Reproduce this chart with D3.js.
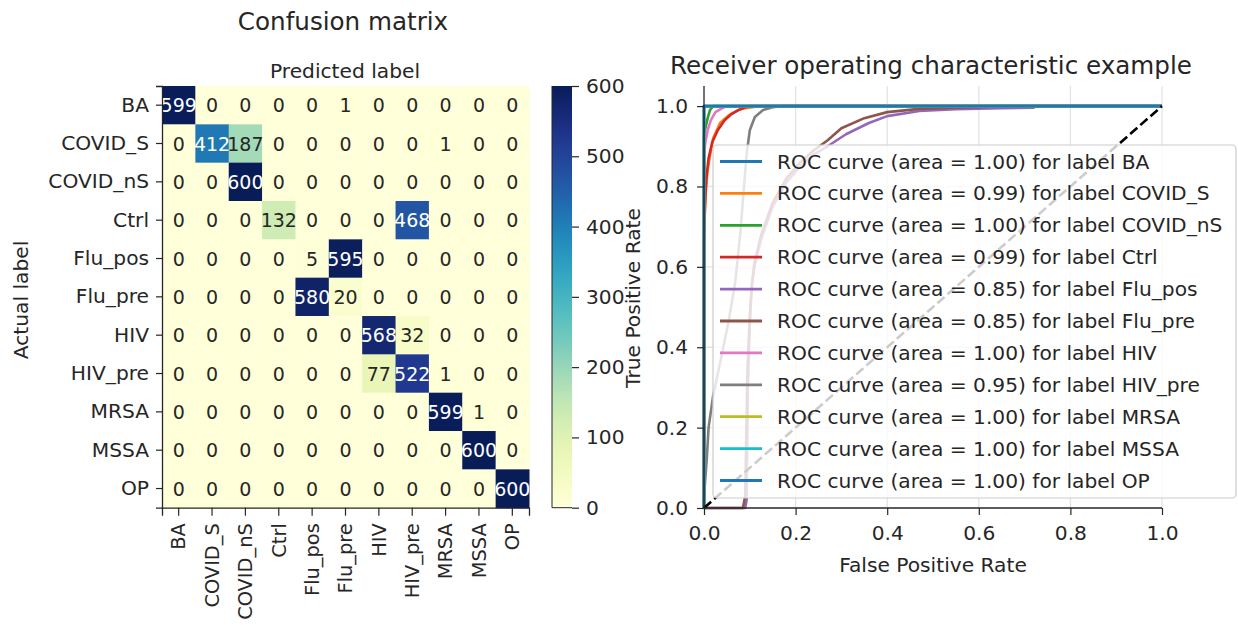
<!DOCTYPE html>
<html>
<head>
<meta charset="utf-8">
<script src="https://cdn.jsdelivr.net/npm/d3@7"></script>
<style>
  body { margin: 0; background: #ffffff; }
  svg { display: block; font-family: "DejaVu Sans", sans-serif; }
</style>
</head>
<body>
<svg id="chart" width="1238" height="625"></svg>
<script>
// ---- Confusion matrix data ----
const classLabels = ["BA", "COVID_S", "COVID_nS", "Ctrl", "Flu_pos", "Flu_pre", "HIV", "HIV_pre", "MRSA", "MSSA", "OP"];
const rowBA      = [599, 0, 0, 0, 0, 1, 0, 0, 0, 0, 0];
const rowCOVID_S = [0, 412, 187, 0, 0, 0, 0, 0, 1, 0, 0];
const rowCOVID_nS= [0, 0, 600, 0, 0, 0, 0, 0, 0, 0, 0];
const rowCtrl    = [0, 0, 0, 132, 0, 0, 0, 468, 0, 0, 0];
const rowFlu_pos = [0, 0, 0, 0, 5, 595, 0, 0, 0, 0, 0];
const rowFlu_pre = [0, 0, 0, 0, 580, 20, 0, 0, 0, 0, 0];
const rowHIV     = [0, 0, 0, 0, 0, 0, 568, 32, 0, 0, 0];
const rowHIV_pre = [0, 0, 0, 0, 0, 0, 77, 522, 1, 0, 0];
const rowMRSA    = [0, 0, 0, 0, 0, 0, 0, 0, 599, 1, 0];
const rowMSSA    = [0, 0, 0, 0, 0, 0, 0, 0, 0, 600, 0];
const rowOP      = [0, 0, 0, 0, 0, 0, 0, 0, 0, 0, 600];
const matrixRows = [rowBA, rowCOVID_S, rowCOVID_nS, rowCtrl, rowFlu_pos, rowFlu_pre, rowHIV, rowHIV_pre, rowMRSA, rowMSSA, rowOP];
const colorbarTicks = [0, 100, 200, 300, 400, 500, 600];

// ---- ROC curve data (false positive rate / true positive rate per class) ----
const fprBA = [0, 0, 1];
const tprBA = [0, 1, 1];
const fprCOVID_S = [0, 0, 0.002, 0.004, 0.008, 0.012, 0.02, 0.035, 0.055, 0.075, 0.09, 0.12, 1];
const tprCOVID_S = [0, 0.67, 0.74, 0.79, 0.84, 0.87, 0.92, 0.958, 0.978, 0.99, 0.995, 1, 1];
const fprCOVID_nS = [0, 0, 0.004, 0.008, 0.013, 0.02, 1];
const tprCOVID_nS = [0, 0.93, 0.95, 0.97, 0.99, 1, 1];
const fprCtrl = [0, 0, 0.002, 0.005, 0.01, 0.018, 0.03, 0.045, 0.06, 0.075, 0.09, 0.1, 1];
const tprCtrl = [0, 0.67, 0.75, 0.82, 0.87, 0.91, 0.94, 0.965, 0.98, 0.99, 0.997, 1, 1];
const fprFlu_pos = [0, 0.09, 0.093, 0.096, 0.1, 0.104, 0.11, 0.125, 0.15, 0.18, 0.21, 0.24, 0.27, 0.31, 0.36, 0.4, 0.47, 0.55, 0.65, 0.72, 0.72, 1];
const tprFlu_pos = [0, 0, 0.02, 0.3, 0.45, 0.55, 0.6, 0.67, 0.75, 0.81, 0.85, 0.88, 0.9, 0.93, 0.958, 0.975, 0.988, 0.992, 0.995, 0.996, 1, 1];
const fprFlu_pre = [0, 0.085, 0.09, 0.095, 0.1, 0.105, 0.11, 0.125, 0.15, 0.18, 0.21, 0.24, 0.27, 0.3, 0.35, 0.4, 0.47, 0.55, 0.617, 0.617, 1];
const tprFlu_pre = [0, 0, 0.03, 0.35, 0.48, 0.56, 0.61, 0.68, 0.76, 0.82, 0.86, 0.89, 0.915, 0.945, 0.97, 0.985, 0.993, 0.996, 0.998, 1, 1];
const fprHIV = [0, 0, 0.003, 0.008, 0.015, 0.025, 0.04, 0.05, 1];
const tprHIV = [0, 0.88, 0.91, 0.94, 0.965, 0.985, 0.995, 1, 1];
const fprHIV_pre = [0, 0, 0.002, 0.006, 0.01, 0.02, 0.035, 0.053, 0.068, 0.079, 0.086, 0.093, 0.1, 0.111, 0.129, 0.15, 0.17, 1];
const tprHIV_pre = [0, 0.02, 0.06, 0.12, 0.2, 0.28, 0.36, 0.46, 0.56, 0.68, 0.78, 0.88, 0.94, 0.973, 0.99, 0.997, 1, 1];
const fprMRSA = [0, 0, 1];
const tprMRSA = [0, 1, 1];
const fprMSSA = [0, 0, 1];
const tprMSSA = [0, 1, 1];
const fprOP = [0, 0, 1];
const tprOP = [0, 1, 1];
const rocAreas = ["1.00", "0.99", "1.00", "0.99", "0.85", "0.85", "1.00", "0.95", "1.00", "1.00", "1.00"];
const rocFpr = [fprBA, fprCOVID_S, fprCOVID_nS, fprCtrl, fprFlu_pos, fprFlu_pre, fprHIV, fprHIV_pre, fprMRSA, fprMSSA, fprOP];
const rocTpr = [tprBA, tprCOVID_S, tprCOVID_nS, tprCtrl, tprFlu_pos, tprFlu_pre, tprHIV, tprHIV_pre, tprMRSA, tprMSSA, tprOP];
const rocTicks = [0, 0.2, 0.4, 0.6, 0.8, 1.0];

const lineColors = ["#1f77b4", "#ff7f0e", "#2ca02c", "#d62728", "#9467bd", "#8c564b", "#e377c2", "#7f7f7f", "#bcbd22", "#17becf", "#1f77b4"];
const textDark = "#262626";
const tickFont = 20.2, labelFont = 20.2, titleFont = 24.6, legendFont = 20.2, annotFont = 19;

const svg = d3.select("#chart");

// ================= Confusion matrix =================
const hm = { left: 162, right: 529, top: 86, bottom: 507.7 };
const xBand = d3.scaleBand().domain(classLabels).range([hm.left, hm.right]);
const yBand = d3.scaleBand().domain(classLabels).range([hm.top, hm.bottom]);
const color = d3.scaleSequential(d3.interpolateYlGnBu).domain([0, 600]);

const cells = [];
matrixRows.forEach((row, i) => row.forEach((v, j) => cells.push({ r: classLabels[i], c: classLabels[j], v })));

svg.append("g").selectAll("rect").data(cells).join("rect")
  .attr("x", d => xBand(d.c)).attr("y", d => yBand(d.r))
  .attr("width", xBand.bandwidth() + 0.5).attr("height", yBand.bandwidth() + 0.5)
  .attr("fill", d => color(d.v));

// pick light or dark annotation text from the cell's luminance
function luminance(c) {
  const rgb = d3.rgb(c);
  const ch = [rgb.r, rgb.g, rgb.b].map(x => {
    x /= 255;
    return x <= 0.03928 ? x / 12.92 : Math.pow((x + 0.055) / 1.055, 2.4);
  });
  return 0.2126 * ch[0] + 0.7152 * ch[1] + 0.0722 * ch[2];
}

svg.append("g").selectAll("text").data(cells).join("text")
  .attr("x", d => xBand(d.c) + xBand.bandwidth() / 2)
  .attr("y", d => yBand(d.r) + yBand.bandwidth() / 2)
  .attr("text-anchor", "middle").attr("dominant-baseline", "central")
  .attr("font-size", annotFont)
  .attr("fill", d => luminance(color(d.v)) > 0.408 ? textDark : "#ffffff")
  .text(d => d.v);

// axes of the matrix
const hmLeft = svg.append("g").attr("transform", `translate(${hm.left},0)`)
  .call(d3.axisLeft(yBand).tickSize(6).tickPadding(7));
const hmBottom = svg.append("g").attr("transform", `translate(0,${hm.bottom})`)
  .call(d3.axisBottom(xBand).tickSize(8).tickPadding(4));
[hmLeft, hmBottom].forEach(g => {
  g.select(".domain").attr("stroke", textDark).attr("stroke-width", 1.3);
  g.selectAll(".tick line").attr("stroke", textDark).attr("stroke-width", 1.2);
  g.selectAll(".tick text").attr("font-size", tickFont).attr("fill", textDark).attr("font-family", "DejaVu Sans");
});
hmBottom.selectAll(".tick text")
  .attr("font-size", 19.4)
  .attr("transform", "rotate(-90)")
  .attr("text-anchor", "end")
  .attr("dy", "0.35em")
  .attr("x", -15.5).attr("y", 0);

svg.append("text").attr("x", 343).attr("y", 30).attr("text-anchor", "middle")
  .attr("font-size", titleFont).attr("fill", textDark).text("Confusion matrix");
svg.append("text").attr("x", 345).attr("y", 78).attr("text-anchor", "middle")
  .attr("font-size", labelFont).attr("fill", textDark).text("Predicted label");
svg.append("text").attr("transform", "translate(28,300) rotate(-90)").attr("text-anchor", "middle")
  .attr("font-size", labelFont).attr("fill", textDark).text("Actual label");

// colorbar
const cb = { left: 552, right: 572, top: 86, bottom: 507.7 };
const cbScale = d3.scaleLinear().domain([0, 600]).range([cb.bottom, cb.top]);
const defs = svg.append("defs");
const grad = defs.append("linearGradient").attr("id", "cbGrad")
  .attr("x1", 0).attr("y1", 1).attr("x2", 0).attr("y2", 0);
d3.range(0, 1.0001, 0.05).forEach(t => {
  grad.append("stop").attr("offset", t).attr("stop-color", color(t * 600));
});
svg.append("rect").attr("x", cb.left).attr("y", cb.top)
  .attr("width", cb.right - cb.left).attr("height", cb.bottom - cb.top)
  .attr("fill", "url(#cbGrad)");
svg.append("line").attr("x1", cb.left).attr("x2", cb.left).attr("y1", cb.top).attr("y2", cb.bottom)
  .attr("stroke", textDark).attr("stroke-width", 1);
svg.append("line").attr("x1", cb.left).attr("x2", cb.right).attr("y1", cb.bottom).attr("y2", cb.bottom)
  .attr("stroke", textDark).attr("stroke-width", 1);
const cbAxis = svg.append("g").attr("transform", `translate(${cb.right},0)`)
  .call(d3.axisRight(cbScale).tickValues(colorbarTicks).tickSize(7).tickPadding(7));
cbAxis.select(".domain").remove();
cbAxis.selectAll(".tick line").attr("stroke", textDark).attr("stroke-width", 1.2);
cbAxis.selectAll(".tick text").attr("font-size", tickFont).attr("fill", textDark).attr("font-family", "DejaVu Sans");

// ================= ROC curves =================
const roc = { left: 704, right: 1162, top: 86, bottom: 508 };
const x = d3.scaleLinear().domain([0, 1]).range([roc.left, roc.right]);
const y = d3.scaleLinear().domain([0, 1.05]).range([roc.bottom, roc.top]);

// grid
const grid = svg.append("g");
grid.selectAll("line.gx").data(rocTicks.slice(1)).join("line")
  .attr("x1", d => x(d)).attr("x2", d => x(d)).attr("y1", roc.top).attr("y2", roc.bottom)
  .attr("stroke", "#e3e3e3").attr("stroke-width", 1.3);
grid.selectAll("line.gy").data(rocTicks.slice(1)).join("line")
  .attr("y1", d => y(d)).attr("y2", d => y(d)).attr("x1", roc.left).attr("x2", roc.right)
  .attr("stroke", "#e3e3e3").attr("stroke-width", 1.3);

const line = d3.line().x(d => x(d[0])).y(d => y(d[1]));
const curves = rocFpr.map((f, i) => f.map((v, k) => [v, rocTpr[i][k]]));
svg.append("g").selectAll("path").data(curves).join("path")
  .attr("d", line).attr("fill", "none")
  .attr("stroke", (d, i) => lineColors[i]).attr("stroke-width", 2.6)
  .attr("stroke-linejoin", "round");

// chance diagonal
svg.append("path").attr("d", line([[0, 0], [1, 1]]))
  .attr("fill", "none").attr("stroke", "#000").attr("stroke-width", 2.6)
  .attr("stroke-dasharray", "9.5,4");

const rocLeft = svg.append("g").attr("transform", `translate(${roc.left},0)`)
  .call(d3.axisLeft(y).tickValues(rocTicks).tickFormat(d3.format(".1f")).tickSize(7).tickPadding(9));
const rocBottom = svg.append("g").attr("transform", `translate(0,${roc.bottom})`)
  .call(d3.axisBottom(x).tickValues(rocTicks).tickFormat(d3.format(".1f")).tickSize(7).tickPadding(11));
rocLeft.select(".domain").attr("d", `M0,${roc.top}V${roc.bottom}`);
[rocLeft, rocBottom].forEach(g => {
  g.select(".domain").attr("stroke", textDark).attr("stroke-width", 1.3);
  g.selectAll(".tick line").attr("stroke", textDark).attr("stroke-width", 1.2);
  g.selectAll(".tick text").attr("font-size", tickFont).attr("fill", textDark).attr("font-family", "DejaVu Sans");
});
rocBottom.select(".domain").attr("d", `M${roc.left},0H${roc.right}`);

svg.append("text").attr("x", (roc.left + roc.right) / 2 - 2).attr("y", 74).attr("text-anchor", "middle")
  .attr("font-size", titleFont).attr("fill", textDark).text("Receiver operating characteristic example");
svg.append("text").attr("x", (roc.left + roc.right) / 2).attr("y", 572).attr("text-anchor", "middle")
  .attr("font-size", labelFont).attr("fill", textDark).text("False Positive Rate");
svg.append("text").attr("transform", "translate(640,298) rotate(-90)").attr("text-anchor", "middle")
  .attr("font-size", labelFont).attr("fill", textDark).text("True Positive Rate");

// legend
const lg = { left: 713, right: 1236, top: 145, bottom: 498, first: 161.5, step: 31.9 };
svg.append("rect").attr("x", lg.left).attr("y", lg.top)
  .attr("width", lg.right - lg.left).attr("height", lg.bottom - lg.top)
  .attr("rx", 4).attr("fill", "#ffffff").attr("fill-opacity", 0.8)
  .attr("stroke", "#cccccc").attr("stroke-width", 1.2);
const items = svg.append("g").selectAll("g").data(classLabels).join("g")
  .attr("transform", (d, i) => `translate(0,${lg.first + i * lg.step})`);
items.append("line").attr("x1", 720).attr("x2", 762).attr("y1", 0).attr("y2", 0)
  .attr("stroke", (d, i) => lineColors[i]).attr("stroke-width", 2.8);
items.append("text").attr("x", 777).attr("y", 0).attr("dominant-baseline", "central")
  .attr("font-size", legendFont).attr("fill", textDark)
  .text((d, i) => `ROC curve (area = ${rocAreas[i]}) for label ${d}`);
</script>
</body>
</html>
